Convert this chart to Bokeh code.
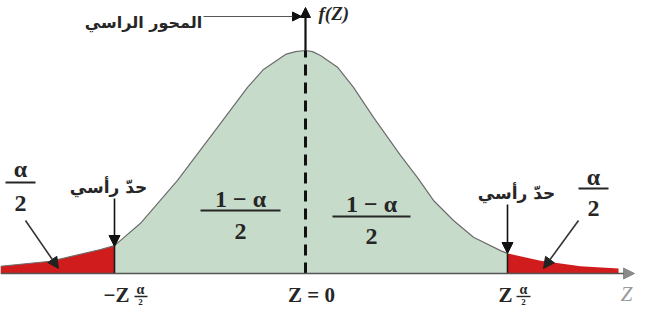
import numpy as np
from bokeh.plotting import figure
from bokeh.models import Arrow, NormalHead
from bokeh.core.properties import value
from bokeh.embed import file_html
from bokeh.resources import INLINE

# ---- data (z in sigma units, f = density) ----
z_vals = [-3.05, -2.55, -2.05, -1.91, -1.65, -1.28, -0.88, -0.58, -0.42, -0.20, -0.10,
          0.0, 0.07, 0.15, 0.32, 0.48, 0.68, 0.95, 1.12, 1.28, 1.48, 1.68, 1.95, 2.02,
          2.35, 2.75, 3.13]
f_vals = [0.013, 0.022, 0.043, 0.050, 0.090, 0.167, 0.262, 0.334, 0.366, 0.393, 0.398,
          0.400, 0.398, 0.391, 0.370, 0.334, 0.280, 0.212, 0.172, 0.131, 0.095, 0.065,
          0.041, 0.036, 0.023, 0.013, 0.009]
z_crit_lo = -1.91
z_crit_hi = 2.02
f_crit_lo = 0.050
f_crit_hi = 0.036
f_peak = 0.400

axis_title_ar = "المحور الراسي"
crit_label_ar = "حدّ رأسي"

z = np.array(z_vals)
f = np.array(f_vals)

# pixel helpers for annotation placement (reference pixel -> data)
def X(px):
    return (px - 305) / 100.0

def Y(py):
    return (273 - py) * 0.4 / 223.0

p = figure(width=635, height=309, x_range=(X(0), X(635)), y_range=(Y(309), Y(0)),
           output_backend="svg", toolbar_location=None, min_border=0)
p.axis.visible = False
p.grid.visible = False
p.outline_line_color = None
p.background_fill_color = "white"

GREEN = "#c7dbcb"
RED = "#d01c1c"
INK = "#262626"
SERIF = value("'Liberation Serif', serif")
AR = value("DejaVu Sans")

# fills
m_lo = z <= z_crit_lo
m_mid = (z >= z_crit_lo) & (z <= z_crit_hi)
m_hi = z >= z_crit_hi
p.varea(x=z[m_lo], y1=0, y2=f[m_lo], fill_color=RED)
p.varea(x=z[m_mid], y1=0, y2=f[m_mid], fill_color=GREEN)
p.varea(x=z[m_hi], y1=0, y2=f[m_hi], fill_color=RED)

# curve outline
p.line(z[z <= z_crit_hi], f[z <= z_crit_hi], line_color="#6c6c6c", line_width=1.2)

# critical lines
p.segment(x0=[z_crit_lo, z_crit_hi], y0=[0, 0], x1=[z_crit_lo, z_crit_hi],
          y1=[f_crit_lo, f_crit_hi], line_color="#1a1a1a", line_width=1.6)

# horizontal axis with arrow
p.add_layout(Arrow(end=NormalHead(size=11, fill_color="#8a8a8a", line_color="#8a8a8a"),
                   x_start=X(0), y_start=0, x_end=X(634), y_end=0,
                   line_color="#555555", line_width=1.6))

# dashed centre line
p.segment(x0=[0], y0=[0], x1=[0], y1=[f_peak], line_color="#111111",
          line_width=3, line_dash="11 7")

# vertical axis arrow
p.add_layout(Arrow(end=NormalHead(size=10, fill_color="#111111", line_color="#111111"),
                   x_start=0, y_start=f_peak, x_end=0, y_end=Y(7),
                   line_color="#111111", line_width=2.2))

# f(Z)
p.text(x=[X(318)], y=[Y(13)], text=["f(Z)"], text_font=SERIF, text_font_size="19px",
       text_font_style="bold italic", text_color=INK, text_align="left",
       text_baseline="middle")

# arabic axis title + arrow
p.text(x=[X(143)], y=[Y(22)], text=[axis_title_ar], text_font=AR, text_font_size="16px",
       text_font_style="bold", text_color=INK, text_align="center", text_baseline="middle")
p.add_layout(Arrow(end=NormalHead(size=9, fill_color="#111111", line_color="#111111"),
                   x_start=X(203), y_start=Y(16), x_end=X(301), y_end=Y(16),
                   line_color="#555555", line_width=1.2))

def frac(cx, y_num, y_bar, y_den, num, half_w, size="22px"):
    p.text(x=[X(cx)], y=[Y(y_num)], text=[num], text_font=SERIF, text_font_size=size,
           text_font_style="bold", text_color=INK, text_align="center",
           text_baseline="middle")
    p.segment(x0=[X(cx - half_w)], y0=[Y(y_bar)], x1=[X(cx + half_w)], y1=[Y(y_bar)],
              line_color=INK, line_width=2)
    p.text(x=[X(cx)], y=[Y(y_den)], text=["2"], text_font=SERIF, text_font_size=size,
           text_font_style="bold", text_color=INK, text_align="center",
           text_baseline="middle")

frac(20, 168, 182, 203, "α", 15, "24px")
frac(593, 176, 188, 208, "α", 15, "24px")
frac(240, 198, 210, 231, "1 − α", 40, "24px")
frac(371, 203, 216, 236, "1 − α", 39, "24px")

# arrows to tails
ah = dict(line_color="#333333", line_width=1.6)
p.add_layout(Arrow(end=NormalHead(size=11, fill_color="#222222", line_color="#222222"),
                   x_start=X(25), y_start=Y(220), x_end=X(58), y_end=Y(268), **ah))
p.add_layout(Arrow(end=NormalHead(size=11, fill_color="#222222", line_color="#222222"),
                   x_start=X(578), y_start=Y(220), x_end=X(543), y_end=Y(268), **ah))

# critical labels + down arrows
p.text(x=[X(108), X(516)], y=[Y(186), Y(192)], text=[crit_label_ar, crit_label_ar],
       text_font=AR, text_font_size="17px", text_font_style="bold", text_color=INK,
       text_align="center", text_baseline="middle")
p.add_layout(Arrow(end=NormalHead(size=11, fill_color="#111111", line_color="#111111"),
                   x_start=X(114), y_start=Y(198), x_end=X(114), y_end=Y(246),
                   line_color="#111111", line_width=1.6))
p.add_layout(Arrow(end=NormalHead(size=11, fill_color="#111111", line_color="#111111"),
                   x_start=X(507), y_start=Y(204), x_end=X(507), y_end=Y(253),
                   line_color="#111111", line_width=1.6))

# bottom labels
lab = dict(text_font=SERIF, text_font_style="bold", text_color=INK, text_baseline="middle")
p.text(x=[X(129)], y=[Y(294)], text=["−Z"], text_font_size="21px", text_align="right", **lab)
p.text(x=[X(140)], y=[Y(289)], text=["α"], text_font_size="14px", text_align="center", **lab)
p.segment(x0=[X(134)], y0=[Y(296)], x1=[X(147)], y1=[Y(296)], line_color=INK, line_width=1.4)
p.text(x=[X(140)], y=[Y(301)], text=["2"], text_font_size="9px", text_align="center", **lab)

p.text(x=[X(512)], y=[Y(294)], text=["Z"], text_font_size="21px", text_align="right", **lab)
p.text(x=[X(523)], y=[Y(289)], text=["α"], text_font_size="14px", text_align="center", **lab)
p.segment(x0=[X(516)], y0=[Y(296)], x1=[X(530)], y1=[Y(296)], line_color=INK, line_width=1.4)
p.text(x=[X(523)], y=[Y(301)], text=["2"], text_font_size="9px", text_align="center", **lab)

p.text(x=[X(311)], y=[Y(294)], text=["Z = 0"], text_font_size="21px", text_align="center", **lab)

p.text(x=[X(626)], y=[Y(293)], text=["Z"], text_font=SERIF, text_font_size="21px",
       text_font_style="italic", text_color="#9a9a9a", text_align="center",
       text_baseline="middle")

open("out.html", "w").write(file_html(p, INLINE))
